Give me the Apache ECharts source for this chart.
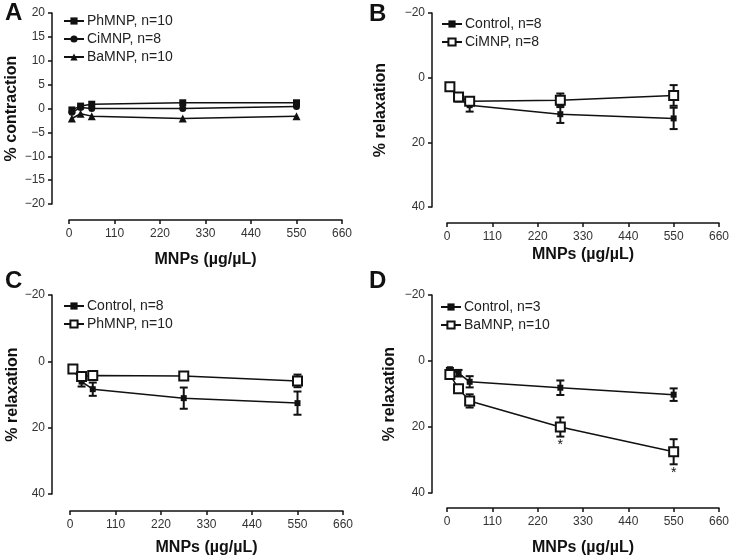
<!DOCTYPE html>
<html>
<head>
<meta charset="utf-8">
<script src="https://cdn.jsdelivr.net/npm/echarts@6/dist/echarts.min.js"></script>
<style>
html,body{margin:0;padding:0;background:#fff;}
#c{width:732px;height:558px;}
</style>
</head>
<body>
<div id="c"></div>
<script>
// ---- data ----
const doses = [7, 28, 55, 275, 550];

// Panel A: % contraction
const aPhMNP = [-0.3, 0.5, 0.9, 1.2, 1.2];
const aCiMNP = [-0.8, 0.2, 0.0, 0.0, 0.4];
const aBaMNP = [-2.1, -1.1, -1.6, -2.1, -1.6];

// Panel B: % relaxation
const bControl = [2.8, 6.6, 8.5, 11.3, 12.6];
const bControlErr = [0.3, 0.8, 2.0, 2.7, 3.3];
const bCiMNP = [2.8, 6.0, 7.3, 7.0, 5.5];
const bCiMNPErr = [0.3, 0.6, 0.8, 2.1, 3.2];

// Panel C: % relaxation
const cControl = [2.5, 6.1, 8.4, 11.1, 12.6];
const cControlErr = [0.3, 1.5, 2.0, 3.2, 3.5];
const cPhMNP = [2.3, 4.6, 4.3, 4.4, 5.9];
const cPhMNPErr = [0.3, 0.6, 0.8, 0.8, 1.9];

// Panel D: % relaxation
const dControl = [2.5, 3.7, 6.3, 8.1, 10.2];
const dControlErr = [0.4, 1.0, 1.7, 2.2, 1.9];
const dBaMNP = [4.1, 8.4, 12.1, 20.0, 27.5];
const dBaMNPErr = [1.0, 1.0, 2.0, 2.9, 3.8];
const dBaMNPSig = ['', '', '', '*', '*'];

const panelLetters = ['A', 'B', 'C', 'D'];
const xTitle = 'MNPs (\u00b5g/\u00b5L)';

// ---- helpers ----
const FONT = '"Liberation Sans", Arial, Helvetica, sans-serif';
const INK = '#111';
const pts = (ys) => doses.map((x, i) => [x, ys[i]]);
const errPts = (ys, es, sig) => doses.map((x, i) => [x, ys[i], es[i], sig ? sig[i] : '']);
const minus = (v) => String(v).replace('-', '\u2212');

function errSeries(idx, ys, es, sig) {
  return {
    type: 'custom', xAxisIndex: idx, yAxisIndex: idx, z: 1, silent: true,
    data: errPts(ys, es, sig),
    renderItem: function (params, api) {
      const x = api.value(0), m = api.value(1), e = api.value(2);
      const s = api.value(3);
      const p1 = api.coord([x, m - e]);
      const p2 = api.coord([x, m + e]);
      const hw = 4;
      const style = { stroke: INK, lineWidth: 2, fill: null };
      const ch = [
        { type: 'line', shape: { x1: p1[0], y1: p1[1], x2: p2[0], y2: p2[1] }, style: style },
        { type: 'line', shape: { x1: p1[0] - hw, y1: p1[1], x2: p1[0] + hw, y2: p1[1] }, style: style },
        { type: 'line', shape: { x1: p2[0] - hw, y1: p2[1], x2: p2[0] + hw, y2: p2[1] }, style: style }
      ];
      if (s) {
        const yb = Math.max(p1[1], p2[1]);
        ch.push({ type: 'text', x: p2[0], y: yb + 2,
          style: { text: s, font: '14px ' + FONT, fill: INK, align: 'center', verticalAlign: 'top' } });
      }
      return { type: 'group', children: ch };
    }
  };
}

function lineSeries(idx, name, ys, symbol, open, size) {
  return {
    type: 'line', name: name, xAxisIndex: idx, yAxisIndex: idx, z: 3,
    data: pts(ys), symbol: symbol, symbolSize: size, showSymbol: true,
    lineStyle: { color: INK, width: 1.5 },
    itemStyle: open ? { color: '#fff', borderColor: INK, borderWidth: 2 }
                    : { color: INK, borderColor: INK, borderWidth: 0 },
    emphasis: { disabled: true }, animation: false
  };
}

const grids = [
  { left: 69, width: 273, top: 13, height: 191 },
  { left: 447, width: 275, top: 13, height: 194 },
  { left: 70, width: 273, top: 295, height: 199 },
  { left: 447, width: 275, top: 295, height: 198 }
];
const xOffsets = [16, 16, 17, 15];
const yOffsets = [17, 15, 18, 15];
const xGaps = [32, 24, 29, 32];
const yGaps = [32, 43, 31, 34];
const yTitles = ['% contraction', '% relaxation', '% relaxation', '% relaxation'];

const axisLine = { show: true, onZero: false, lineStyle: { color: INK, width: 1.5 } };
const axisTick = { show: true, length: 4, inside: false, lineStyle: { color: INK, width: 1.5 } };
const axisLabel = { color: '#333', fontSize: 12, fontFamily: FONT, margin: 7 };

const xAxes = grids.map((g, i) => ({
  type: 'value', gridIndex: i, min: 0, max: 660, interval: 110,
  offset: xOffsets[i], axisLine: axisLine, axisTick: axisTick,
  axisLabel: Object.assign({}, axisLabel, { margin: 8 }),
  splitLine: { show: false },
  name: xTitle, nameLocation: 'middle', nameGap: xGaps[i],
  nameTextStyle: { fontFamily: FONT, fontSize: 16, fontWeight: 'bold', color: INK }
}));
const yAxes = grids.map((g, i) => ({
  type: 'value', gridIndex: i,
  min: -20, max: i === 0 ? 20 : 40, interval: i === 0 ? 5 : 20,
  inverse: i !== 0,
  offset: yOffsets[i], axisLine: axisLine, axisTick: axisTick,
  axisLabel: Object.assign({}, axisLabel, { formatter: minus }),
  splitLine: { show: false },
  name: yTitles[i], nameLocation: 'middle', nameGap: yGaps[i],
  nameTextStyle: { fontFamily: FONT, fontSize: 16, fontWeight: 'bold', color: INK }
}));

const legendBase = {
  orient: 'vertical', itemWidth: 20, itemHeight: 9, itemGap: 4,
  textStyle: { fontFamily: FONT, fontSize: 14, color: '#222', padding: [0, 0, 0, -2] },
  selectedMode: false, inactiveColor: INK
};
const legends = [
  Object.assign({}, legendBase, { left: 58, top: 9, data: ['PhMNP, n=10', 'CiMNP, n=8', 'BaMNP, n=10'] }),
  Object.assign({}, legendBase, { left: 436, top: 12, data: ['Control, n=8', 'CiMNP, n=8 '] }),
  Object.assign({}, legendBase, { left: 58, top: 294, data: ['Control, n=8', 'PhMNP, n=10 '] }),
  Object.assign({}, legendBase, { left: 435, top: 295, data: ['Control, n=3', 'BaMNP, n=10 '] })
];

const series = [
  lineSeries(0, 'BaMNP, n=10', aBaMNP, 'triangle', false, 8),
  lineSeries(0, 'CiMNP, n=8', aCiMNP, 'circle', false, 7),
  lineSeries(0, 'PhMNP, n=10', aPhMNP, 'rect', false, 7),

  errSeries(1, bControl, bControlErr),
  errSeries(1, bCiMNP, bCiMNPErr),
  lineSeries(1, 'Control, n=8', bControl, 'rect', false, 6),
  lineSeries(1, 'CiMNP, n=8 ', bCiMNP, 'rect', true, 9),

  errSeries(2, cControl, cControlErr),
  errSeries(2, cPhMNP, cPhMNPErr),
  lineSeries(2, 'Control, n=8', cControl, 'rect', false, 6),
  lineSeries(2, 'PhMNP, n=10 ', cPhMNP, 'rect', true, 9),

  errSeries(3, dControl, dControlErr),
  errSeries(3, dBaMNP, dBaMNPErr, dBaMNPSig),
  lineSeries(3, 'Control, n=3', dControl, 'rect', false, 6),
  lineSeries(3, 'BaMNP, n=10 ', dBaMNP, 'rect', true, 9)
];

const letterPos = [[5, 13], [369, 14], [5, 281], [369, 281]];
const graphic = panelLetters.map((t, i) => ({
  type: 'text', x: letterPos[i][0], y: letterPos[i][1], silent: true,
  style: { text: t, font: 'bold 24px ' + FONT, fill: INK, align: 'left', verticalAlign: 'middle' }
}));

const chart = echarts.init(document.getElementById('c'), null, { renderer: 'canvas' });
chart.setOption({
  animation: false,
  backgroundColor: '#fff',
  grid: grids,
  xAxis: xAxes,
  yAxis: yAxes,
  legend: legends,
  series: series,
  graphic: graphic
});
</script>
</body>
</html>
